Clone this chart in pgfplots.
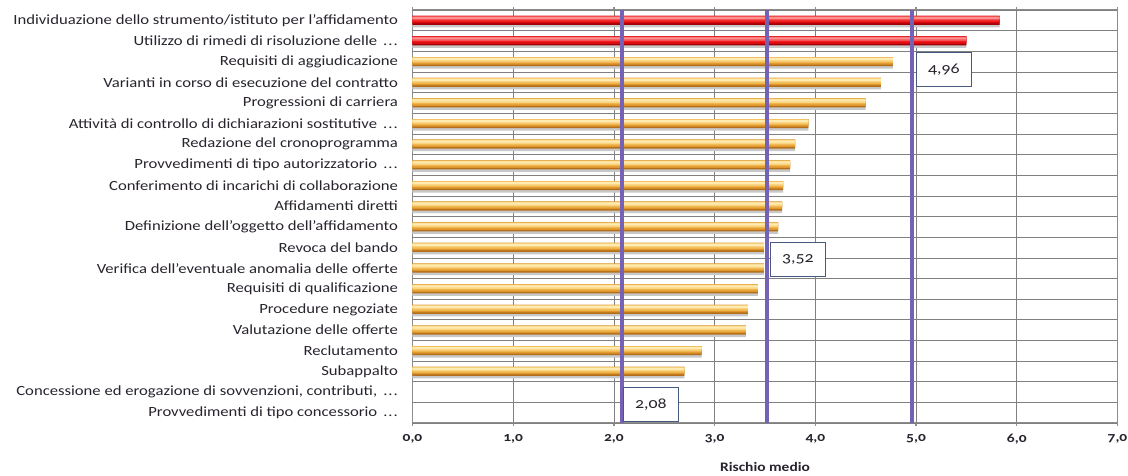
\documentclass[border=0pt]{standalone}
\usepackage{pgfplots}
\pgfplotsset{compat=1.18}
\usepackage{fontspec}
\setmainfont{Carlito}[Numbers=OldStyle, FakeStretch=1.19]

\definecolor{gridgray}{RGB}{128,128,128}
\definecolor{axisgray}{RGB}{140,140,140}
\definecolor{refline}{RGB}{118,98,180}
\definecolor{boxborder}{RGB}{70,90,125}
\definecolor{labeltext}{RGB}{40,35,45}
\definecolor{shadow}{RGB}{200,200,200}
\definecolor{red1}{RGB}{160,0,5}
\definecolor{red2}{RGB}{215,10,15}
\definecolor{red3}{RGB}{240,25,30}
\definecolor{red4}{RGB}{246,85,85}
\definecolor{red5}{RGB}{250,145,145}
\definecolor{or1}{RGB}{180,110,25}
\definecolor{or2}{RGB}{222,150,45}
\definecolor{or3}{RGB}{240,182,78}
\definecolor{or4}{RGB}{250,212,128}
\definecolor{or5}{RGB}{253,235,178}

\newcommand{\puntini}{\,.\kern1pt.\kern1pt.}

% Rischio medio per processo (0 = in alto)
\pgfplotstableread{
idx val
0 5.83
1 5.50
}\alto
\pgfplotstableread{
idx val
2 4.77
3 4.65
4 4.50
5 3.93
6 3.80
7 3.75
8 3.68
9 3.67
10 3.63
11 3.49
12 3.49
13 3.43
14 3.33
15 3.31
16 2.87
17 2.70
}\medio

\begin{document}
\begin{tikzpicture}
\begin{axis}[
  at={(0,0)}, anchor=south west,
  scale only axis,
  width=705pt, height=413pt,
  xbar, bar width=9pt,
  xmin=0, xmax=7,
  ymin=-0.5, ymax=19.5,
  y dir=reverse,
  xtick={0,1,2,3,4,5,6,7},
  xticklabel style={font=\fontsize{13}{13}\selectfont\bfseries, text=labeltext, yshift=-5pt},
  /pgf/number format/.cd, fixed, fixed zerofill, precision=1, use comma, assume math mode=true,
  /pgfplots/.cd,
  ytick={0,1,2,3,4,5,6,7,8,9,10,11,12,13,14,15,16,17,18,19},
  yticklabels={
    Individuazione dello strumento/istituto per l’affidamento,
    Utilizzo di rimedi di risoluzione delle \puntini,
    Requisiti di aggiudicazione,
    Varianti in corso di esecuzione del contratto,
    Progressioni di carriera,
    Attività di controllo di dichiarazioni sostitutive \puntini,
    Redazione del cronoprogramma,
    Provvedimenti di tipo autorizzatorio \puntini,
    Conferimento di incarichi di collaborazione,
    Affidamenti diretti,
    Definizione dell’oggetto dell’affidamento,
    Revoca del bando,
    Verifica dell’eventuale anomalia delle offerte,
    Requisiti di qualificazione,
    Procedure negoziate,
    Valutazione delle offerte,
    Reclutamento,
    Subappalto,
    {Concessione ed erogazione di sovvenzioni, contributi, \puntini},
    Provvedimenti di tipo concessorio \puntini},
  yticklabel style={font=\fontsize{14}{14}\selectfont, text=labeltext, xshift=-8pt},
  major y tick style={draw=none},
  extra y ticks={-0.5,0.5,1.5,2.5,3.5,4.5,5.5,6.5,7.5,8.5,9.5,10.5,11.5,12.5,13.5,14.5,15.5,16.5,17.5,18.5,19.5},
  extra y tick labels={},
  extra y tick style={grid=major, major grid style={gridgray, line width=0.6pt},
    major tick length=4pt, tick style={axisgray, line width=1.2pt}, tick align=outside},
  xmajorgrids, major x grid style={gridgray, line width=0.6pt},
  major x tick style={axisgray, line width=1.2pt},
  tick align=outside, major tick length=3pt,
  axis line style={axisgray, line width=1.2pt},
  xlabel={\bfseries Rischio medio},
  xlabel style={font=\fontsize{13}{13}\selectfont, text=labeltext, yshift=-11pt},
  clip=false,
  every axis plot/.append style={draw=none, forget plot},
]
% barre: ombra e strati sovrapposti per il rilievo
\addplot[fill=shadow, bar width=8.5pt, bar shift=-2.75pt] table[x=val, y=idx] {\alto};
\addplot[fill=red1, bar width=9pt,   bar shift=0pt]    table[x=val, y=idx] {\alto};
\addplot[fill=red2, bar width=7.5pt, bar shift=0.75pt] table[x=val, y=idx] {\alto};
\addplot[fill=red3, bar width=6pt,   bar shift=1.5pt]  table[x=val, y=idx] {\alto};
\addplot[fill=red4, bar width=4pt,   bar shift=2pt]    table[x=val, y=idx] {\alto};
\addplot[fill=red5, bar width=2pt,   bar shift=2.5pt]  table[x=val, y=idx] {\alto};

\addplot[fill=shadow, bar width=8.5pt, bar shift=-2.75pt] table[x=val, y=idx] {\medio};
\addplot[fill=or1, bar width=9pt,   bar shift=0pt]    table[x=val, y=idx] {\medio};
\addplot[fill=or2, bar width=7.5pt, bar shift=0.75pt] table[x=val, y=idx] {\medio};
\addplot[fill=or3, bar width=6pt,   bar shift=1.5pt]  table[x=val, y=idx] {\medio};
\addplot[fill=or4, bar width=4pt,   bar shift=2pt]    table[x=val, y=idx] {\medio};
\addplot[fill=or5, bar width=2pt,   bar shift=2.5pt]  table[x=val, y=idx] {\medio};

% soglie di rischio
\draw[refline, line width=3.2pt] (axis cs:2.08,-0.5) -- (axis cs:2.08,19.5);
\draw[refline, line width=3.2pt] (axis cs:3.52,-0.5) -- (axis cs:3.52,19.5);
\draw[refline, line width=3.2pt] (axis cs:4.96,-0.5) -- (axis cs:4.96,19.5);

\tikzset{soglia/.style={draw=boxborder, line width=0.8pt, fill=white, anchor=west,
  minimum width=55pt, minimum height=34pt, inner sep=0pt,
  font=\fontsize{15}{15}\selectfont, text=labeltext}}
\node[soglia] at ([xshift=4pt]axis cs:4.96,2.4) {4,96};
\node[soglia] at ([xshift=3pt]axis cs:3.52,11.58) {3,52};
\node[soglia] at ([xshift=1pt]axis cs:2.08,18.62) {2,08};
\end{axis}
\pgfresetboundingbox
\path (-412.5pt,-52pt) rectangle (715.5pt,423pt);
\end{tikzpicture}
\end{document}
